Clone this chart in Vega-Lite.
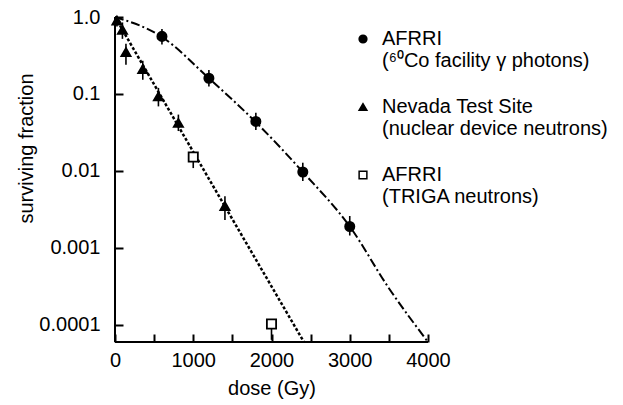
{
  "$schema": "https://vega.github.io/schema/vega-lite/v6.json",
  "width": 313,
  "height": 325,
  "autosize": "none",
  "padding": {"left": 115, "top": 17, "right": 195, "bottom": 63},
  "background": "white",
  "config": {
    "view": {"stroke": null},
    "font": "Liberation Sans",
    "axis": {
      "domain": false, "tickColor": "black", "tickWidth": 2, "ticks": true, "zindex": 2,
      "labelColor": "black", "labelFont": "Liberation Sans", "labelFontSize": 20,
      "titleColor": "black", "titleFont": "Liberation Sans", "titleFontSize": 20, "titleFontWeight": "normal",
      "grid": false
    }
  },
  "datasets": {
    "points": [
      {"series": "photon", "dose": 600, "sf": 0.56, "lo": 0.44, "hi": 0.70},
      {"series": "photon", "dose": 1200, "sf": 0.16, "lo": 0.125, "hi": 0.205},
      {"series": "photon", "dose": 1800, "sf": 0.044, "lo": 0.034, "hi": 0.057},
      {"series": "photon", "dose": 2400, "sf": 0.0097, "lo": 0.0074, "hi": 0.0128},
      {"series": "photon", "dose": 3000, "sf": 0.0019, "lo": 0.00145, "hi": 0.0026},
      {"series": "neutron", "dose": 25, "sf": 0.9, "lo": 0.75, "hi": 1.0},
      {"series": "neutron", "dose": 95, "sf": 0.68, "lo": 0.52, "hi": 0.85},
      {"series": "neutron", "dose": 140, "sf": 0.35, "lo": 0.24, "hi": 0.45},
      {"series": "neutron", "dose": 355, "sf": 0.21, "lo": 0.153, "hi": 0.27},
      {"series": "neutron", "dose": 555, "sf": 0.093, "lo": 0.069, "hi": 0.12},
      {"series": "neutron", "dose": 810, "sf": 0.042, "lo": 0.033, "hi": 0.054},
      {"series": "neutron", "dose": 1405, "sf": 0.0035, "lo": 0.0023, "hi": 0.0047},
      {"series": "triga", "dose": 1000, "sf": 0.0152, "lo": 0.0109, "hi": 0.0152},
      {"series": "triga", "dose": 2000, "sf": 0.000103, "lo": 0.000064, "hi": 0.000103}
    ],
    "photonCurve": [
      {"dose": 0, "sf": 1.0},
      {"dose": 600, "sf": 0.55},
      {"dose": 1200, "sf": 0.16},
      {"dose": 1800, "sf": 0.043},
      {"dose": 2400, "sf": 0.0097},
      {"dose": 3000, "sf": 0.0019},
      {"dose": 3500, "sf": 0.0003},
      {"dose": 4000, "sf": 0.00006}
    ],
    "neutronCurve": [
      {"dose": 0, "sf": 1.0},
      {"dose": 1200, "sf": 0.0079},
      {"dose": 2414, "sf": 0.00006}
    ],
    "frame": [
      {"dose": 0, "dose2": 0, "sf": 0.00006, "sf2": 1.0},
      {"dose": 0, "dose2": 4000, "sf": 0.00006, "sf2": 0.00006}
    ]
  },
  "encoding": {
    "x": {
      "field": "dose", "type": "quantitative",
      "scale": {"domain": [0, 4000], "nice": false, "zero": false},
      "axis": {
        "title": "dose (Gy)", "values": [0, 500, 1000, 1500, 2000, 2500, 3000, 3500, 4000],
        "format": "d", "labelExpr": "datum.value % 1000 == 0 ? datum.label : ''",
        "offset": -8, "tickSize": 8,
        "labelPadding": 8, "titlePadding": 8, "labelFlush": false, "labelOverlap": false
      }
    },
    "y": {
      "field": "sf", "type": "quantitative",
      "scale": {"type": "log", "domain": [0.00006, 1.0], "nice": false, "zero": false},
      "axis": {
        "title": "surviving fraction", "values": [0.0001, 0.001, 0.01, 0.1, 1],
        "format": ".4~f", "labelExpr": "datum.value >= 1 ? '1.0' : datum.label",
        "offset": -8, "tickSize": 8,
        "labelPadding": 15, "labelFlush": false, "labelOverlap": false,
        "titleX": -97, "titleY": 131, "titleBaseline": "middle", "titleAlign": "center", "titleAngle": -90
      }
    }
  },
  "layer": [
    {
      "data": {"name": "photonCurve"},
      "mark": {"type": "line", "color": "black", "strokeWidth": 2, "strokeDash": [9, 3, 2, 3], "interpolate": "monotone"}
    },
    {
      "data": {"name": "neutronCurve"},
      "mark": {"type": "line", "color": "black", "strokeWidth": 2.5, "strokeDash": [3, 2]}
    },
    {
      "data": {"name": "points"},
      "mark": {"type": "rule", "color": "black", "strokeWidth": 1.6},
      "encoding": {
        "y": {"field": "lo", "type": "quantitative", "title": "surviving fraction"},
        "y2": {"field": "hi"}
      }
    },
    {
      "data": {"name": "points"},
      "mark": {"type": "point", "filled": true, "stroke": "black", "strokeWidth": 1.8, "opacity": 1, "size": 85},
      "encoding": {
        "shape": {
          "field": "series", "type": "nominal",
          "scale": {"domain": ["photon", "neutron", "triga"], "range": ["circle", "triangle-up", "square"]},
          "legend": {
            "orient": "none", "legendX": 238, "legendY": 12, "title": null, "padding": 0,
            "labelFont": "Liberation Sans", "labelFontSize": 20, "labelColor": "black", "labelLimit": 400,
            "labelOffset": 9, "rowPadding": 26, "symbolSize": 60,
            "encode": {"symbols": {"update": {"stroke": {"value": "black"}, "strokeWidth": {"value": 1.5}}}},
            "labelExpr": "datum.value == 'photon' ? ['AFRRI', '(⁶⁰Co facility γ photons)'] : datum.value == 'neutron' ? ['Nevada Test Site', '(nuclear device neutrons)'] : ['AFRRI', '(TRIGA neutrons)']"
          }
        },
        "fill": {
          "field": "series", "type": "nominal",
          "scale": {"domain": ["photon", "neutron", "triga"], "range": ["black", "black", "white"]},
          "legend": {
            "orient": "none", "legendX": 238, "legendY": 12, "title": null, "padding": 0,
            "labelFont": "Liberation Sans", "labelFontSize": 20, "labelColor": "black", "labelLimit": 400,
            "labelOffset": 9, "rowPadding": 26, "symbolSize": 60,
            "encode": {"symbols": {"update": {"stroke": {"value": "black"}, "strokeWidth": {"value": 1.5}}}},
            "labelExpr": "datum.value == 'photon' ? ['AFRRI', '(⁶⁰Co facility γ photons)'] : datum.value == 'neutron' ? ['Nevada Test Site', '(nuclear device neutrons)'] : ['AFRRI', '(TRIGA neutrons)']"
          }
        }
      }
    },
    {
      "data": {"name": "frame"},
      "mark": {"type": "rule", "color": "black", "strokeWidth": 2},
      "encoding": {"x2": {"field": "dose2"}, "y2": {"field": "sf2"}}
    }
  ]
}
